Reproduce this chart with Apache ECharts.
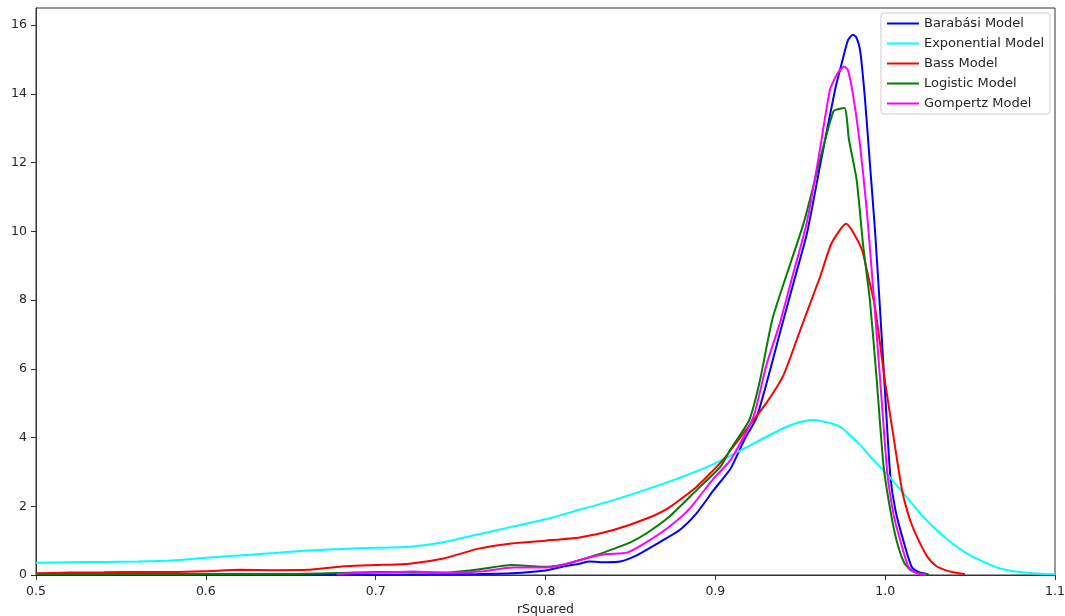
<!DOCTYPE html>
<html>
<head>
<meta charset="utf-8">
<script src="https://cdn.jsdelivr.net/npm/echarts@6/dist/echarts.min.js"></script>
<style>
  html, body { margin: 0; padding: 0; background: #ffffff; }
  #chart { width: 1065px; height: 616px; }
</style>
</head>
<body>
<div id="chart"></div>
<script>
// Kernel density estimates of rSquared for each growth model
const barabasiX = [0.50, 0.60, 0.70, 0.74, 0.76, 0.78, 0.80, 0.81, 0.82, 0.826, 0.836, 0.844, 0.854, 0.866, 0.879, 0.889, 0.899, 0.909, 0.917, 0.924, 0.930, 0.938, 0.946, 0.954, 0.962, 0.9705, 0.975, 0.978, 0.981, 0.983, 0.9852, 0.988, 0.991, 0.994, 0.997, 1.000, 1.003, 1.006, 1.0107, 1.0156, 1.020, 1.025];
const barabasiY = [0.01, 0.01, 0.01, 0.02, 0.03, 0.05, 0.13, 0.24, 0.33, 0.39, 0.37, 0.39, 0.58, 0.92, 1.31, 1.80, 2.47, 3.10, 3.93, 4.55, 5.55, 7.04, 8.50, 9.95, 12.0, 14.12, 15.0, 15.55, 15.72, 15.65, 15.28, 13.92, 11.98, 10.04, 7.71, 5.25, 2.90, 1.90, 1.00, 0.24, 0.08, 0.02];

const exponentialX = [0.50, 0.52, 0.54, 0.56, 0.58, 0.60, 0.62, 0.64, 0.66, 0.68, 0.70, 0.72, 0.74, 0.76, 0.78, 0.80, 0.82, 0.84, 0.86, 0.88, 0.90, 0.92, 0.94, 0.95, 0.9577, 0.965, 0.9734, 0.979, 0.985, 0.993, 1.000, 1.0107, 1.0205, 1.028, 1.038, 1.048, 1.058, 1.0676, 1.077, 1.087, 1.10];
const exponentialY = [0.36, 0.37, 0.38, 0.39, 0.42, 0.50, 0.57, 0.64, 0.71, 0.76, 0.79, 0.82, 0.95, 1.18, 1.40, 1.62, 1.90, 2.18, 2.50, 2.85, 3.25, 3.76, 4.27, 4.45, 4.51, 4.45, 4.32, 4.08, 3.80, 3.35, 3.00, 2.38, 1.80, 1.41, 0.98, 0.63, 0.38, 0.19, 0.10, 0.05, 0.02];

const bassX = [0.50, 0.52, 0.54, 0.56, 0.58, 0.60, 0.62, 0.64, 0.66, 0.68, 0.70, 0.72, 0.74, 0.76, 0.78, 0.80, 0.82, 0.84, 0.86, 0.873, 0.889, 0.9045, 0.92, 0.93, 0.94, 0.95, 0.9617, 0.9685, 0.977, 0.986, 0.99, 0.994, 1.000, 1.005, 1.010, 1.015, 1.020, 1.025, 1.030, 1.035, 1.040, 1.047];
const bassY = [0.05, 0.07, 0.08, 0.09, 0.09, 0.11, 0.15, 0.14, 0.15, 0.25, 0.29, 0.33, 0.48, 0.76, 0.92, 1.00, 1.09, 1.31, 1.65, 1.97, 2.57, 3.35, 4.35, 5.00, 5.80, 7.13, 8.68, 9.66, 10.22, 9.51, 8.70, 7.80, 5.60, 4.00, 2.45, 1.55, 0.98, 0.52, 0.26, 0.15, 0.08, 0.02];

const logisticX = [0.50, 0.55, 0.60, 0.65, 0.68, 0.70, 0.72, 0.74, 0.76, 0.78, 0.80, 0.81, 0.82, 0.83, 0.84, 0.85, 0.86, 0.873, 0.889, 0.903, 0.9087, 0.920, 0.926, 0.934, 0.952, 0.9695, 0.976, 0.9787, 0.9832, 0.9871, 0.991, 0.995, 0.999, 1.003, 1.007, 1.011, 1.015, 1.020, 1.026];
const logisticY = [0.03, 0.03, 0.03, 0.03, 0.06, 0.09, 0.09, 0.07, 0.16, 0.29, 0.24, 0.30, 0.43, 0.58, 0.76, 0.95, 1.23, 1.70, 2.47, 3.15, 3.64, 4.51, 5.60, 7.52, 10.24, 13.49, 13.59, 12.66, 11.50, 9.56, 8.00, 5.70, 3.20, 1.90, 0.95, 0.38, 0.14, 0.05, 0.01];

const gompertzX = [0.677, 0.69, 0.703, 0.722, 0.742, 0.761, 0.781, 0.80, 0.81, 0.824, 0.836, 0.848, 0.86, 0.873, 0.885, 0.899, 0.909, 0.9224, 0.930, 0.938, 0.946, 0.9538, 0.961, 0.9675, 0.972, 0.9758, 0.978, 0.981, 0.985, 0.989, 0.993, 0.997, 1.0013, 1.005, 1.0088, 1.0137, 1.0186, 1.024];
const gompertzY = [0.03, 0.06, 0.07, 0.10, 0.06, 0.10, 0.22, 0.22, 0.29, 0.49, 0.61, 0.65, 0.97, 1.41, 1.94, 2.81, 3.35, 4.60, 6.10, 7.33, 8.80, 10.24, 12.20, 14.12, 14.60, 14.80, 14.70, 14.00, 12.60, 10.70, 8.30, 5.70, 2.96, 1.75, 1.02, 0.24, 0.05, 0.01];

const modelNames = ['Barabási Model', 'Exponential Model', 'Bass Model', 'Logistic Model', 'Gompertz Model'];
const modelColors = ['#0000ff', '#00ffff', '#ff0000', '#008000', '#ff00ff'];
const xTicks = [0.5, 0.6, 0.7, 0.8, 0.9, 1.0, 1.1];
const yTicks = [0, 2, 4, 6, 8, 10, 12, 14, 16];

const curves = [
  [barabasiX, barabasiY],
  [exponentialX, exponentialY],
  [bassX, bassY],
  [logisticX, logisticY],
  [gompertzX, gompertzY]
];

const FONT = 'DejaVu Sans';
const chart = echarts.init(document.getElementById('chart'), null, { renderer: 'canvas' });

chart.setOption({
  animation: false,
  backgroundColor: '#ffffff',
  textStyle: { fontFamily: FONT },
  grid: {
    left: 36, right: 10, top: 8, bottom: 41,
    containLabel: false,
    outerBoundsMode: 'none',
    show: true, borderColor: '#333333', borderWidth: 1,
    backgroundColor: 'transparent'
  },
  legend: {
    orient: 'vertical',
    right: 15, top: 13,
    backgroundColor: '#ffffff',
    borderColor: '#cccccc', borderWidth: 1, borderRadius: 3,
    padding: [3, 6, 3, 6],
    itemGap: 5,
    itemWidth: 32, itemHeight: 2,
    icon: 'rect',
    textStyle: { fontFamily: FONT, fontSize: 13, color: '#262626', lineHeight: 15 },
    data: modelNames
  },
  xAxis: {
    type: 'value',
    min: 0.5, max: 1.1,
    name: 'rSquared',
    nameLocation: 'middle',
    nameGap: 27,
    nameTextStyle: { fontFamily: FONT, fontSize: 12.5, color: '#262626' },
    splitLine: { show: false },
    axisLine: { show: true, onZero: false, lineStyle: { color: '#333333', width: 1 } },
    axisTick: { show: true, inside: false, length: 5, customValues: xTicks, lineStyle: { color: '#333333' } },
    axisLabel: {
      customValues: xTicks, margin: 10,
      fontFamily: FONT, fontSize: 12.5, color: '#262626',
      formatter: v => v.toFixed(1)
    }
  },
  yAxis: {
    type: 'value',
    min: 0, max: 16.5,
    splitLine: { show: false },
    axisLine: { show: true, lineStyle: { color: '#333333', width: 1 } },
    axisTick: { show: true, inside: false, length: 5, customValues: yTicks, lineStyle: { color: '#333333' } },
    axisLabel: {
      customValues: yTicks, margin: 9,
      fontFamily: FONT, fontSize: 12.5, color: '#262626'
    }
  },
  series: curves.map((c, i) => ({
    name: modelNames[i],
    type: 'line',
    data: c[0].map((x, k) => [x, c[1][k]]),
    showSymbol: false,
    symbol: 'none',
    smooth: 0.2,
    clip: true,
    lineStyle: { color: modelColors[i], width: 2 },
    itemStyle: { color: modelColors[i] },
    z: 2 + i
  }))
});
</script>
</body>
</html>
